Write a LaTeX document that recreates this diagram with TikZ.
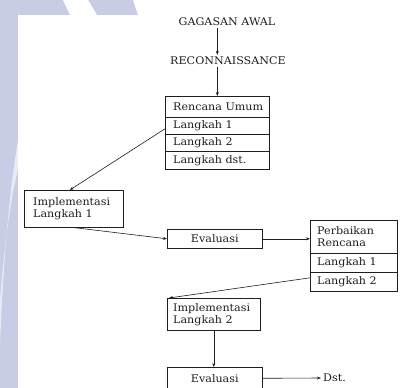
\documentclass[tikz,border=0pt]{standalone}
\usepackage{fontspec}
\setmainfont{DejaVu Serif}[FakeStretch=1.06]
\usetikzlibrary{arrows.meta,calc}
\definecolor{lav}{RGB}{200,204,229}
\definecolor{ink}{RGB}{30,30,30}
\begin{document}
\begin{tikzpicture}[x=1pt,y=-1pt,
  box/.style={draw=ink,line width=0.6pt,rectangle,anchor=north west,inner sep=0pt},
  txt/.style={anchor=west,inner sep=0pt,align=left,font=\fontsize{10.5}{12}\selectfont,text=ink},
  lbl/.style={inner sep=2pt,font=\fontsize{10.5}{12}\selectfont,text=ink},
  arr/.style={draw=ink,line width=0.6pt,-{Stealth[length=4pt,width=3pt]}}]
\useasboundingbox (0,0) rectangle (405,388);
% background watermark
\fill[lav] (0,0) rectangle (405,388);
\fill[white] (18,15) rectangle (405,388);
\fill[white] (133,0) -- (405,0) -- (405,15) -- (138,15) -- cycle;
\fill[white] (63,0) -- (88,0) -- (97,15) -- (70,15) -- cycle;
\fill[white,opacity=0.6] (18,140) .. controls (8,200) and (3,270) .. (0,345) -- (0,300) .. controls (4,250) and (10,200) .. (18,170) -- cycle;
% top labels
\node[lbl] (ga) at (227,22) {GAGASAN AWAL};
\node[lbl] (rc) at (228,61) {RECONNAISSANCE};
% Rencana Umum block
\node[box,minimum width=104pt,minimum height=21pt] (ru) at (165,96) {};
\node[box,minimum width=104pt,minimum height=17pt] (ru1) at (165,117) {};
\node[box,minimum width=104pt,minimum height=17pt] (ru2) at (165,134) {};
\node[box,minimum width=104pt,minimum height=18pt] (rud) at (165,151) {};
\node[txt] (tru) at ($(ru.west)+(8,0)$) {Rencana Umum};
\node[txt] (tru1) at ($(ru1.west)+(8,0)$) {Langkah 1};
\node[txt] (tru2) at ($(ru2.west)+(8,0)$) {Langkah 2};
\node[txt] (trud) at ($(rud.west)+(8,0)$) {Langkah dst.};
% Implementasi 1
\node[box,minimum width=99pt,minimum height=37pt] (il1) at (24,190) {};
\node[txt] (til1) at ($(il1.west)+(9,0)$) {Implementasi\\Langkah 1};
% Evaluasi 1
\node[box,minimum width=95pt,minimum height=19pt] (ev1) at (167,229) {};
\node[lbl,inner sep=0pt] (tev1) at (ev1.center) {Evaluasi};
% Perbaikan Rencana
\node[box,minimum width=87pt,minimum height=33pt] (pr) at (310,220) {};
\node[box,minimum width=87pt,minimum height=19pt] (pr1) at (310,253) {};
\node[box,minimum width=87pt,minimum height=19pt] (pr2) at (310,272) {};
\node[txt] (tpr) at ($(pr.west)+(7,0)$) {Perbaikan\\Rencana};
\node[txt] (tpr1) at ($(pr1.west)+(7,0)$) {Langkah 1};
\node[txt] (tpr2) at ($(pr2.west)+(7,0)$) {Langkah 2};
% Implementasi 2
\node[box,minimum width=93pt,minimum height=32pt] (il2) at (167,298) {};
\node[txt] (til2) at ($(il2.west)+(6,0)$) {Implementasi\\Langkah 2};
% Evaluasi 2
\node[box,minimum width=95pt,minimum height=22pt] (ev2) at (167,367) {};
\node[lbl,inner sep=0pt] (tev2) at (ev2.center) {Evaluasi};
\node[lbl,anchor=west] (dst) at (321,378) {Dst.};
% connectors
\draw[arr] (ga.south -| ru.north) -- (rc.north -| ru.north);
\draw[arr] (rc.south -| ru.north) -- (ru.north);
\draw[arr] ($(ru1.west)+(0,3)$) -- ($(il1.north)+(-4,0)$);
\draw[arr] (il1.south) -- (ev1.west);
\draw[arr] (ev1.east) -- (pr.west |- ev1.east);
\draw[arr] ($(pr2.west)+(0,-4)$) -- ($(il2.north west)+(2,0)$);
\draw[arr] (il2.south) -- (il2.south |- ev2.north);
\draw[arr] (ev2.east) -- (dst.west);
\end{tikzpicture}
\end{document}
